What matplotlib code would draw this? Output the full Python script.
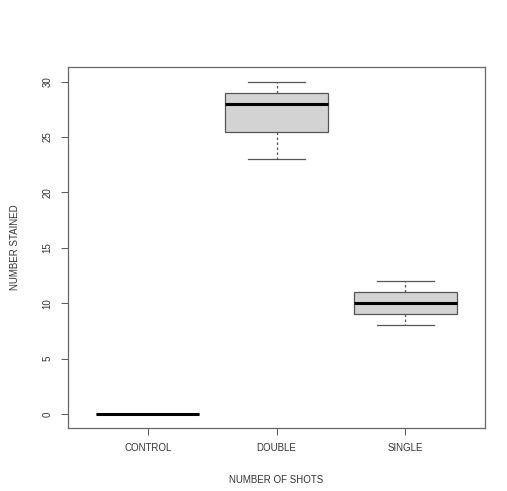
import matplotlib
matplotlib.use('Agg')
import matplotlib.pyplot as plt

# Данные боксплота: группы и пятичисловые сводки
groups = ['CONTROL', 'DOUBLE', 'SINGLE']
whislo = [0, 23, 8]
q1 = [0, 25.5, 9]
med = [0, 28, 10]
q3 = [0, 29, 11]
whishi = [0, 30, 12]
y_ticks = [0, 5, 10, 15, 20, 25, 30]

plt.rcParams['font.family'] = ['Liberation Sans', 'DejaVu Sans']

fig = plt.figure(figsize=(5.07, 4.91), dpi=100)
ax = fig.add_axes([0.134, 0.129, 0.823, 0.734])

stats = [dict(label=g, whislo=lo, q1=a, med=m, q3=b, whishi=hi, fliers=[])
         for g, lo, a, m, b, hi in zip(groups, whislo, q1, med, q3, whishi)]

ax.bxp(stats, positions=[1, 2, 3], widths=0.8, patch_artist=True, showfliers=False,
       boxprops=dict(facecolor='#d3d3d3', edgecolor='#555555', linewidth=0.9),
       medianprops=dict(color='black', linewidth=2.2),
       whiskerprops=dict(color='#555555', linewidth=0.9, linestyle=(0, (2, 2))),
       capprops=dict(color='#555555', linewidth=0.9),
       capwidths=0.44)

ax.set_xlim(0.38, 3.62)
ax.set_ylim(-1.24, 31.3)
ax.set_yticks(y_ticks)
ax.set_yticklabels([str(t) for t in y_ticks], rotation=90, va='center')
ax.set_xticks([1, 2, 3])
ax.set_xticklabels(groups)
ax.tick_params(labelsize=7, length=5, width=0.7, color='#555555', labelcolor='#333333', pad=6)

for s in ax.spines.values():
    s.set_color('#666666')
    s.set_linewidth(0.9)

ax.set_xlabel('NUMBER OF SHOTS', fontsize=7, color='#333333', labelpad=16)
ax.set_ylabel('NUMBER STAINED', fontsize=7, color='#333333', labelpad=16)

fig.savefig('out.png', dpi=100)
